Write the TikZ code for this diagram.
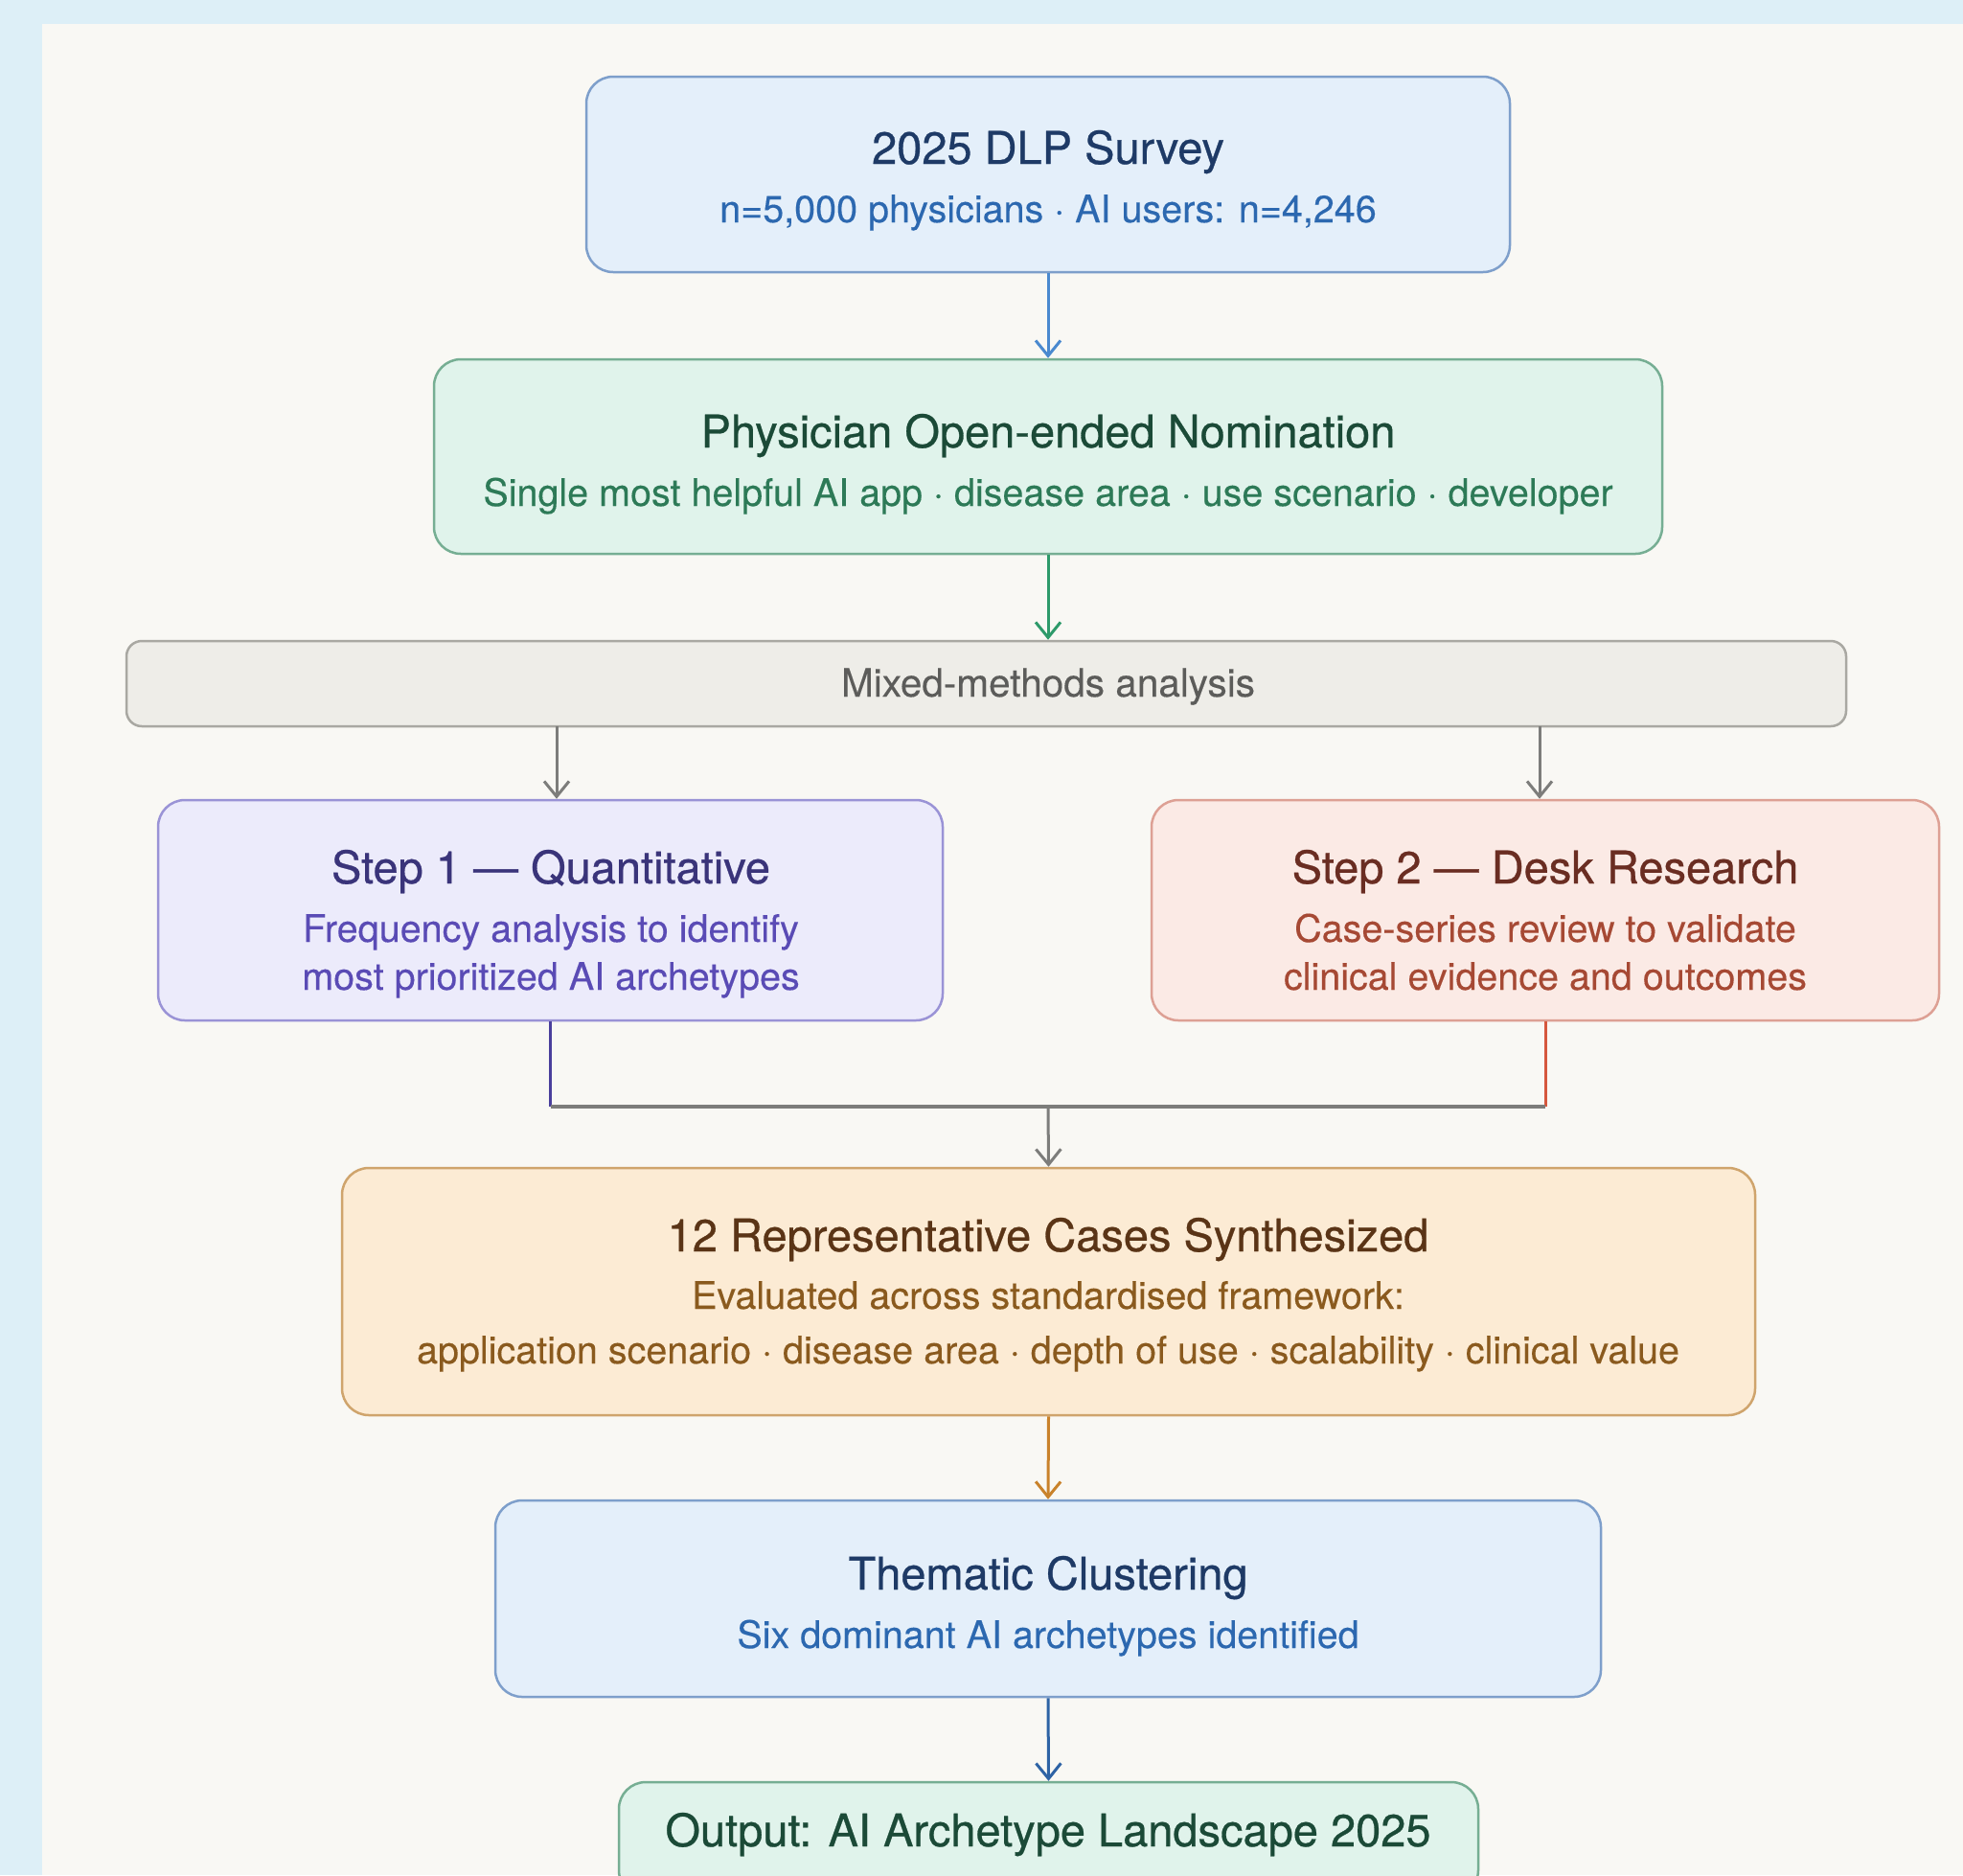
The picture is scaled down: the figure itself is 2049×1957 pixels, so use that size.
\documentclass[tikz,border=0pt]{standalone}
\usepackage{fontspec}
\setmainfont{TeX Gyre Heros}
\newfontfamily\titlefont[FakeBold=0.6]{TeX Gyre Heros}
\newfontfamily\subfont[FakeBold=0.25]{TeX Gyre Heros}
\usetikzlibrary{arrows.meta}
\definecolor{outerbg}{HTML}{DDEFF7}
\definecolor{innerbg}{HTML}{F9F8F4}
% blue
\definecolor{bluefill}{HTML}{E4EFFA}
\definecolor{blueline}{HTML}{7E9FCB}
\definecolor{bluetitle}{HTML}{1E3A66}
\definecolor{bluesub}{HTML}{2C68B0}
\definecolor{bluearrow}{HTML}{4A89CF}
\definecolor{bluearrowdk}{HTML}{2E63A5}
% green
\definecolor{greenfill}{HTML}{E0F3EB}
\definecolor{greenline}{HTML}{76AE93}
\definecolor{greentitle}{HTML}{1B4A37}
\definecolor{greensub}{HTML}{2D7A57}
\definecolor{greenarrow}{HTML}{2E9A6A}
% gray
\definecolor{grayfill}{HTML}{EEEDE8}
\definecolor{grayline}{HTML}{A9A8A2}
\definecolor{graytext}{HTML}{5C5C5A}
\definecolor{grayarrow}{HTML}{7D7D7B}
% purple
\definecolor{purpfill}{HTML}{ECEBFB}
\definecolor{purpline}{HTML}{9A93D6}
\definecolor{purptitle}{HTML}{3A347A}
\definecolor{purpsub}{HTML}{5A4BB5}
\definecolor{purparrow}{HTML}{4A3F9C}
% red
\definecolor{redfill}{HTML}{FBEAE5}
\definecolor{redline}{HTML}{DDA094}
\definecolor{redtitle}{HTML}{6A2D22}
\definecolor{redsub}{HTML}{A64934}
\definecolor{redarrow}{HTML}{D5573D}
% orange
\definecolor{orfill}{HTML}{FCEBD4}
\definecolor{orline}{HTML}{CFA46C}
\definecolor{ortitle}{HTML}{5A3416}
\definecolor{orsub}{HTML}{8A5A1E}
\definecolor{orarrow}{HTML}{C9822B}
\tikzset{
  boxnode/.style={rounded corners=28pt, line width=2.5pt, inner sep=0pt},
  titletext/.style={anchor=base, inner sep=0pt, font=\titlefont\fontsize{47}{52}\selectfont},
  subtext/.style={anchor=base, inner sep=0pt, font=\subfont\fontsize{39.5}{46}\selectfont},
  conn/.style={line width=3pt, -{Straight Barb[length=16pt,width=26pt,line width=3pt]}},
  plainline/.style={line width=3pt},
}
\begin{document}
\begin{tikzpicture}[x=1pt,y=-1pt]
\useasboundingbox (0,0) rectangle (2049,1957);
\fill[outerbg] (0,0) rectangle (2049,1957);
\fill[innerbg] (44,25) rectangle (2049,1957);

% boxes
\node[boxnode, fill=bluefill, draw=blueline, minimum width=964pt, minimum height=204pt] (b1) at (1094,182) {};
\node[boxnode, fill=greenfill, draw=greenline, minimum width=1282pt, minimum height=203pt] (b2) at (1094,476.5) {};
\node[boxnode, rounded corners=16pt, fill=grayfill, draw=grayline, minimum width=1795pt, minimum height=89pt] (mix) at (1029.5,713.5) {};
\node[boxnode, fill=purpfill, draw=purpline, minimum width=819pt, minimum height=230pt] (s1) at (574.5,950) {};
\node[boxnode, fill=redfill, draw=redline, minimum width=822pt, minimum height=230pt] (s2) at (1613,950) {};
\node[boxnode, fill=orfill, draw=orline, minimum width=1475pt, minimum height=258pt] (cases) at (1094.5,1348) {};
\node[boxnode, fill=bluefill, draw=blueline, minimum width=1154pt, minimum height=205pt] (them) at (1094,1668.5) {};
\node[boxnode, fill=greenfill, draw=greenline, minimum width=897pt, minimum height=120pt] (out) at (1094.5,1920) {};

% texts
\node[titletext, text=bluetitle] (b1t) at (1094,171) {2025 DLP Survey};
\node[subtext, text=bluesub] (b1s) at (1094,232) {n=5,000 physicians · AI users: n=4,246};
\node[titletext, text=greentitle] (b2t) at (1094,467) {Physician Open-ended Nomination};
\node[subtext, text=greensub] (b2s) at (1094,528) {Single most helpful AI app · disease area · use scenario · developer};
\node[subtext, text=graytext, font=\subfont\fontsize{40.5}{46}\selectfont] (mixt) at (1094,727) {Mixed-methods analysis};
\node[titletext, text=purptitle] (s1t) at (575,922) {Step 1 — Quantitative};
\node[subtext, text=purpsub] (s1a) at (575,983) {Frequency analysis to identify};
\node[subtext, text=purpsub] (s1b) at (575,1033) {most prioritized AI archetypes};
\node[titletext, text=redtitle] (s2t) at (1613,922) {Step 2 — Desk Research};
\node[subtext, text=redsub] (s2a) at (1613,983) {Case-series review to validate};
\node[subtext, text=redsub] (s2b) at (1613,1033) {clinical evidence and outcomes};
\node[titletext, text=ortitle] (ct) at (1094,1306) {12 Representative Cases Synthesized};
\node[subtext, text=orsub] (ca) at (1094,1366) {Evaluated across standardised framework:};
\node[subtext, text=orsub] (cb) at (1094,1423) {application scenario · disease area · depth of use · scalability · clinical value};
\node[titletext, text=bluetitle] (tt) at (1094,1659) {Thematic Clustering};
\node[subtext, text=bluesub] (ts) at (1094,1720) {Six dominant AI archetypes identified};
\node[titletext, text=greentitle] (ot) at (1094,1927) {Output: AI Archetype Landscape 2025};

% connectors
\coordinate (join) at (1094,1155);
\coordinate (mixL) at (581,758);
\coordinate (mixR) at (1607,758);
\draw[conn, draw=bluearrow] (b1.south) -- (b2.north);
\draw[conn, draw=greenarrow] (b2.south) -- (mix.north -| b2.south);
\draw[conn, draw=grayarrow] (mixL) -- (mixL |- s1.north);
\draw[conn, draw=grayarrow] (mixR) -- (mixR |- s2.north);
\draw[plainline, draw=purparrow] (s1.south) -- (s1.south |- join);
\draw[plainline, draw=redarrow] (s2.south) -- (s2.south |- join);
\draw[plainline, draw=grayarrow, line width=3.5pt] (s1.south |- join) -- (s2.south |- join);
\draw[conn, draw=grayarrow] (join) -- (cases.north);
\draw[conn, draw=orarrow] (cases.south) -- (them.north);
\draw[conn, draw=bluearrowdk] (them.south) -- (out.north);
\end{tikzpicture}
\end{document}
